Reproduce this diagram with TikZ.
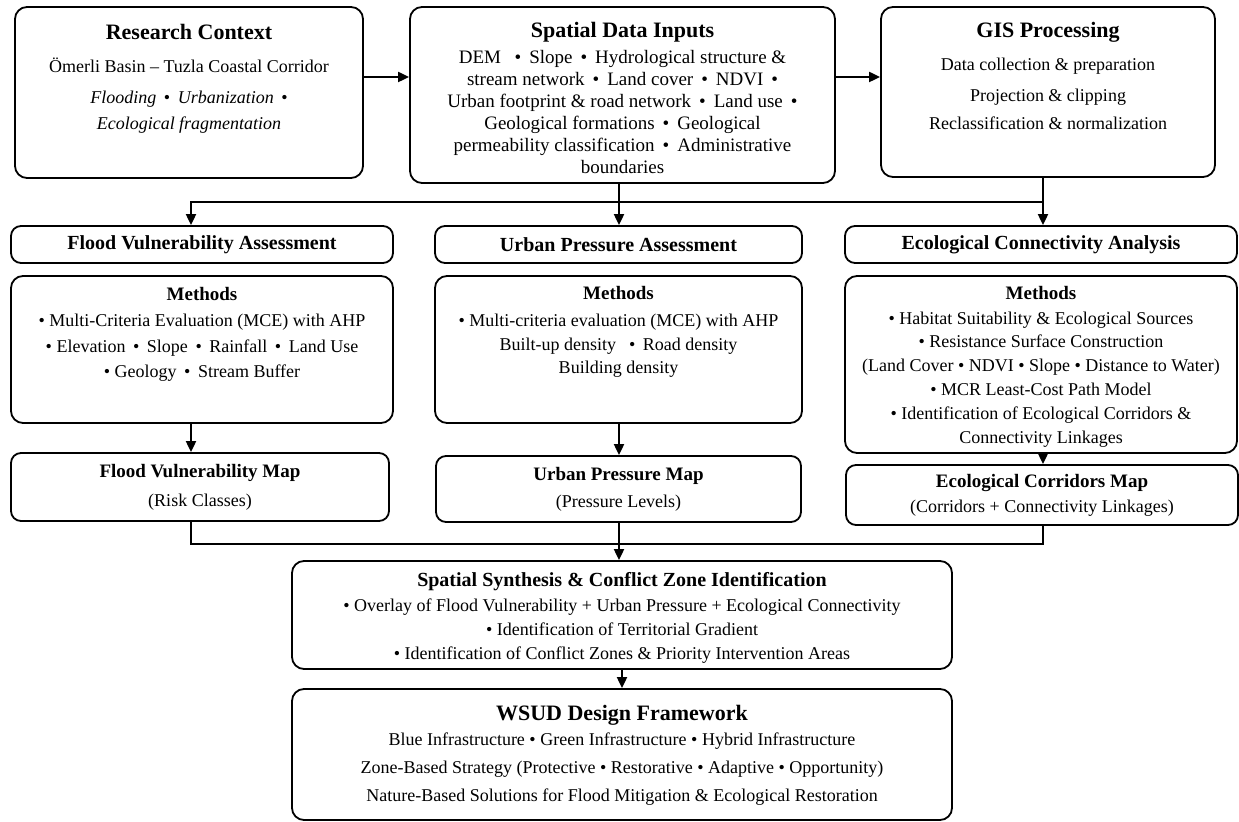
\documentclass[tikz,border=0pt]{standalone}
\usepackage{fontspec}
\setmainfont{Liberation Serif}
\usetikzlibrary{positioning,calc,arrows.meta}

\tikzset{
    box/.style={draw, line width=0.9pt, rounded corners=6pt, inner sep=0pt, align=center},
    hdr/.style={box, rounded corners=5pt, font=\bfseries\fontsize{10}{12}\selectfont},
    mapbox/.style={box, rounded corners=5pt, font=\fontsize{9}{#1}\selectfont},
    txt/.style={inner sep=0pt, align=center, font=\fontsize{9}{#1}\selectfont},
    line/.style={line width=1pt},
    arr/.style={line, -{Triangle[length=5.5pt,width=5pt]}}
}
\newcommand{\ttl}[2][11]{{\bfseries\fontsize{#1}{13}\selectfont #2}}
\newcommand{\sep}{\unskip\hspace{0.42em}•\hspace{0.42em}\ignorespaces}

\begin{document}
\begin{tikzpicture}[x=0.5pt, y=-0.5pt]
    \useasboundingbox (0,0) rectangle (1239,822);

    % top row
    \node[box, minimum width=174pt, minimum height=85.5pt] (ctx) at (189,92.5) {};
    \node[txt=13pt, below=8.75pt of ctx.north] (ctxtxt) {\ttl{Research Context}\\[3.4pt]
        Ömerli Basin – Tuzla Coastal Corridor\\[2.5pt]
        \textit{Flooding} \sep \textit{Urbanization} \sep\\
        \textit{Ecological fragmentation}};

    \node[box, minimum width=212.5pt, minimum height=88pt] (inp) at (622.5,95) {};
    \node[txt=11pt, font=\fontsize{9.5}{11}\selectfont, below=7.85pt of inp.north] (inptxt) {\ttl{Spatial Data Inputs}\\[1.85pt]
        DEM\hspace{0.3em} \sep Slope \sep Hydrological structure \&\\
        stream network \sep Land cover \sep NDVI \sep\\
        Urban footprint \& road network \sep Land use \sep\\
        Geological formations \sep Geological\\
        permeability classification \sep Administrative\\
        boundaries};

    \node[box, minimum width=167pt, minimum height=85pt] (gis) at (1048,92) {};
    \node[txt=14pt, below=7.85pt of gis.north] (gistxt) {\ttl{GIS Processing}\\[2.4pt]
        Data collection \& preparation\\[1.5pt]
        Projection \& clipping\\
        Reclassification \& normalization};

    % assessment headers
    \node[hdr, minimum width=191pt, minimum height=18.5pt] (fva) at (202,244.5) {Flood Vulnerability Assessment};
    \node[hdr, minimum width=183.5pt, minimum height=18.5pt] (upa) at (618.5,244.5) {Urban Pressure Assessment};
    \node[hdr, minimum width=196pt, minimum height=18.5pt] (eca) at (1041,244.5) {Ecological Connectivity Analysis};

    % methods
    \node[box, minimum width=191pt, minimum height=73.5pt] (fvm) at (202,349.5) {};
    \node[txt=12.75pt, below=5.75pt of fvm.north] (fvmtxt) {\ttl[9.5]{Methods}\\[0.6pt]
        • Multi-Criteria Evaluation (MCE) with AHP\\
        • Elevation \sep Slope \sep Rainfall \sep Land Use\\
        • Geology \sep Stream Buffer};

    \node[box, minimum width=183.5pt, minimum height=73.5pt] (upm) at (618.5,349.5) {};
    \node[txt=11.75pt, below=5.5pt of upm.north] (upmtxt) {\ttl[9.5]{Methods}\\[1.75pt]
        • Multi-criteria evaluation (MCE) with AHP\\
        Built-up density\hspace{0.3em} \sep Road density\\
        Building density};

    \node[box, minimum width=196pt, minimum height=88.5pt] (ecm) at (1041,364.5) {};
    \node[txt=11.9pt, below=5.5pt of ecm.north] (ecmtxt) {\ttl[9.5]{Methods}\\[0.35pt]
        • Habitat Suitability \& Ecological Sources\\
        • Resistance Surface Construction\\
        (Land Cover • NDVI • Slope • Distance to Water)\\
        • MCR Least-Cost Path Model\\
        • Identification of Ecological Corridors \&\\
        Connectivity Linkages};

    % maps
    \node[mapbox=14.5pt, minimum width=189pt, minimum height=34pt] (fmap) at (200,487) {\ttl[9.5]{Flood Vulnerability Map}\\(Risk Classes)};
    \node[mapbox=13.5pt, minimum width=182.5pt, minimum height=33pt] (umap) at (618.5,489) {\ttl[9.5]{Urban Pressure Map}\\(Pressure Levels)};
    \node[mapbox=12.5pt, minimum width=196pt, minimum height=30pt] (emap) at (1042,495) {\ttl[9.5]{Ecological Corridors Map}\\(Corridors + Connectivity Linkages)};

    % synthesis and design
    \node[box, minimum width=330pt, minimum height=54pt] (syn) at (622,615) {};
    \node[txt=12pt, below=6.2pt of syn.north] (syntxt) {\ttl[10]{Spatial Synthesis \& Conflict Zone Identification}\\[0.2pt]
        • Overlay of Flood Vulnerability + Urban Pressure + Ecological Connectivity\\
        • Identification of Territorial Gradient\\
        • Identification of Conflict Zones \& Priority Intervention Areas};

    \node[box, minimum width=330pt, minimum height=65.5pt] (wsud) at (622,754.5) {};
    \node[txt=14pt, below=8.35pt of wsud.north] (wsudtxt) {\ttl{WSUD Design Framework}\\[-1.65pt]
        Blue Infrastructure • Green Infrastructure • Hybrid Infrastructure\\
        Zone-Based Strategy (Protective • Restorative • Adaptive • Opportunity)\\
        Nature-Based Solutions for Flood Mitigation \& Ecological Restoration};

    % connectors
    \coordinate (rowy) at (0,77);
    \coordinate (split) at (0,202);
    \coordinate (merge) at (0,544);
    \coordinate (fcol) at (191,0);
    \coordinate (ucol) at (619,0);
    \coordinate (ecol) at (1043,0);

    \draw[arr] (ctx.east |- rowy) -- (inp.west |- rowy);
    \draw[arr] (inp.east |- rowy) -- (gis.west |- rowy);

    \draw[arr] (inp.south -| ucol) -- (upa.north -| ucol);
    \draw[arr] (gis.south -| ecol) -- (eca.north -| ecol);
    \draw[arr] (split -| ecol) -- (split -| fcol) -- (fva.north -| fcol);

    \draw[arr] (fvm.south -| fcol) -- (fmap.north -| fcol);
    \draw[arr] (upm.south -| ucol) -- (umap.north -| ucol);
    \draw[arr] (ecm.south -| ecol) -- (emap.north -| ecol);

    \draw[line] (fmap.south -| fcol) |- (merge -| ecol) -- (emap.south -| ecol);
    \draw[arr] (umap.south -| ucol) -- (syn.north -| ucol);
    \draw[arr] (syn) -- (wsud);
\end{tikzpicture}
\end{document}
